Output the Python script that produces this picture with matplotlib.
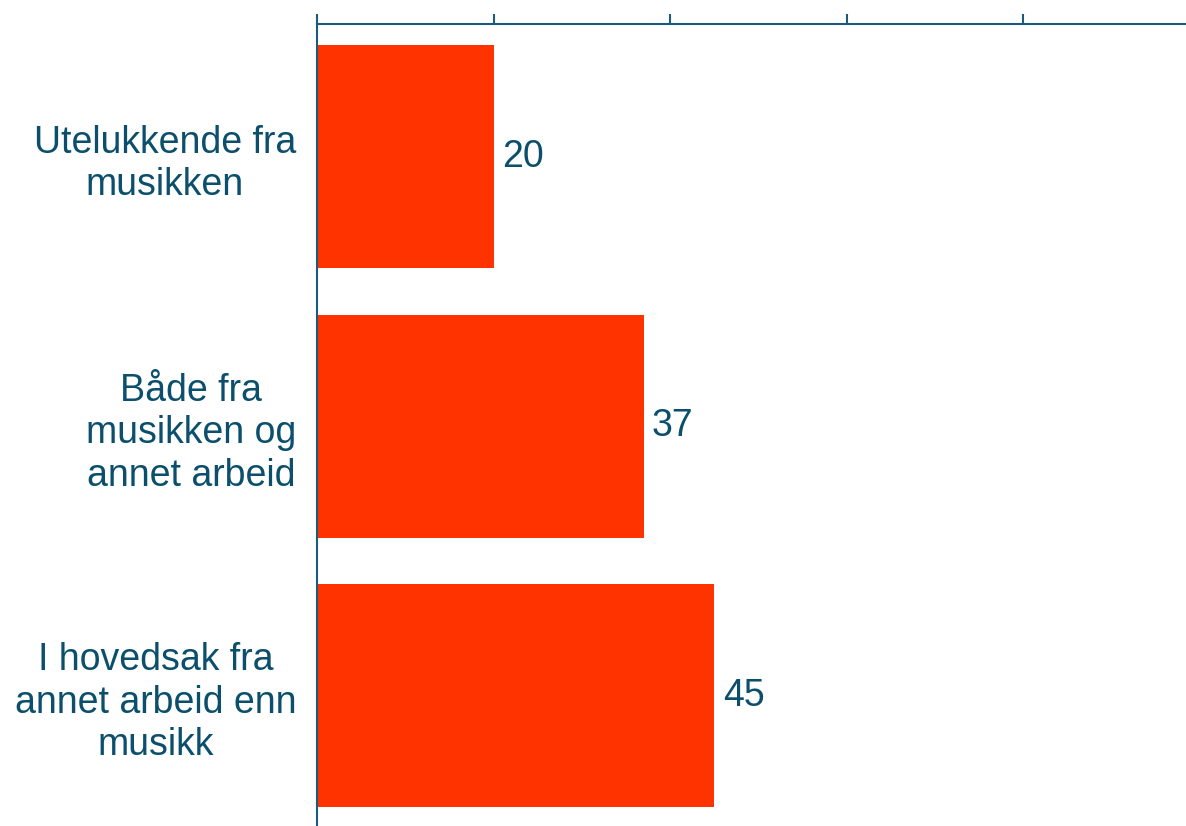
import matplotlib
matplotlib.use('Agg')
import matplotlib.pyplot as plt
from matplotlib.transforms import offset_copy

# Data
categories = ['Utelukkende fra\nmusikken',
              'Både fra\nmusikken og\nannet arbeid',
              'I hovedsak fra\nannet arbeid enn\nmusikk']
values = [20, 37, 45]

bar_color = '#FF3300'
text_color = '#0B4F6C'
axis_color = '#1A5C7A'

plt.rcParams['font.family'] = ['Liberation Sans', 'DejaVu Sans']

fig = plt.figure(figsize=(11.86, 8.26), dpi=100)
# axes placed so that 0 is at x=317 px and the top axis at y=24 px
ax = fig.add_axes([317 / 1186, 0, 883 / 1186, 802 / 826])

y = range(len(categories))
ax.barh(y, values, height=0.827, color=bar_color)

ax.set_xlim(0, 100)
ax.set_ylim(2.484, -0.492)

# x axis on top, no labels
ax.xaxis.tick_top()
ax.set_xticks([0, 20, 40, 60, 80, 100])
ax.set_xticklabels([])
ax.tick_params(axis='x', length=7.2, width=1.5, color=axis_color, direction='out')

ax.set_yticks(list(y))
ax.set_yticklabels(categories, fontsize=27, color=text_color, linespacing=1.23)
ax.tick_params(axis='y', length=0, pad=15)
for t in ax.get_yticklabels():
    t.set_multialignment('center')

for side in ['right', 'bottom']:
    ax.spines[side].set_visible(False)
for side in ['top', 'left']:
    ax.spines[side].set_color(axis_color)
    ax.spines[side].set_linewidth(1.5)

# value labels
trans = offset_copy(ax.transData, fig=fig, x=6, y=0, units='points')
for i, v in enumerate(values):
    ax.text(v, i, str(v), transform=trans, ha='left', va='center',
            fontsize=27, color=text_color)

fig.savefig('out.png', dpi=100)
